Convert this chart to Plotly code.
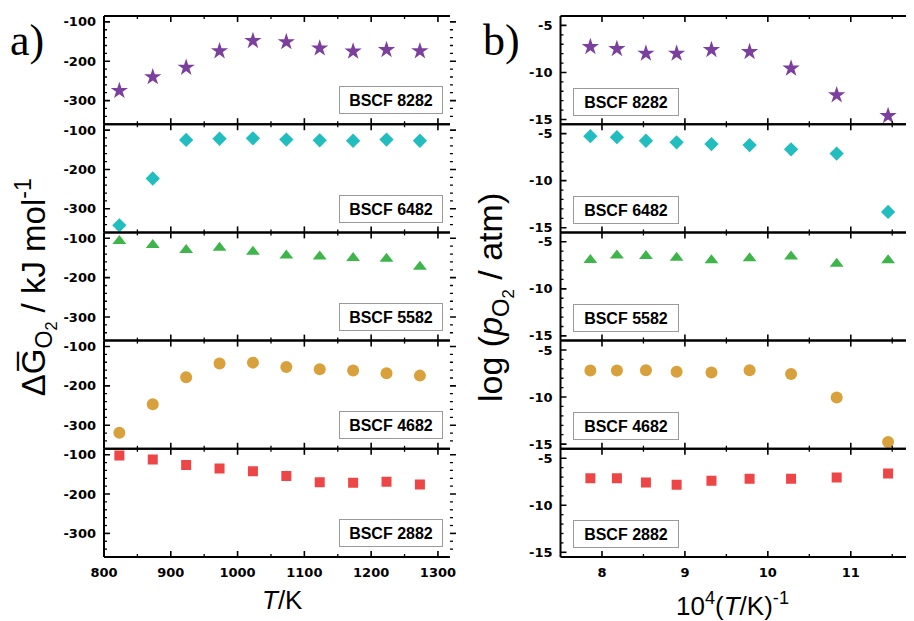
import plotly.graph_objects as go

# ---------------- data ----------------
T_K = [823, 873, 923, 973, 1023, 1073, 1123, 1173, 1223, 1273]
inv_T = [7.86, 8.18, 8.53, 8.90, 9.32, 9.78, 10.28, 10.83, 11.45]  # 10^4 (T/K)^-1

samples = ["BSCF 8282", "BSCF 6482", "BSCF 5582", "BSCF 4682", "BSCF 2882"]

dG_8282 = [-275, -240, -216, -174, -148, -151, -167, -175, -171, -174]
dG_6482 = [-342, -223, -125, -122, -121, -124, -126, -127, -124, -127]
dG_5582 = [-107, -117, -130, -124, -134, -144, -146, -150, -152, -172]
dG_4682 = [-319, -247, -178, -143, -141, -152, -158, -161, -168, -174]
dG_2882 = [-102, -112, -126, -135, -142, -154, -170, -171, -169, -176]

logp_8282 = [-7.28, -7.49, -7.98, -7.98, -7.60, -7.81, -9.57, -12.41, -14.62]
logp_6482 = [-5.27, -5.38, -5.76, -5.93, -6.11, -6.22, -6.67, -7.12, -13.32]
logp_5582 = [-6.94, -6.45, -6.52, -6.69, -6.97, -6.76, -6.55, -7.32, -6.97]
logp_4682 = [-7.18, -7.18, -7.14, -7.32, -7.39, -7.14, -7.56, -10.04, -14.77]
logp_2882 = [-7.13, -7.13, -7.57, -7.81, -7.40, -7.19, -7.19, -7.06, -6.62]

dG_all = [dG_8282, dG_6482, dG_5582, dG_4682, dG_2882]
logp_all = [logp_8282, logp_6482, logp_5582, logp_4682, logp_2882]

x_left_ticks = [800, 900, 1000, 1100, 1200, 1300]
x_right_ticks = [8, 9, 10, 11]
y_left_ticks = [-100, -200, -300]
y_left_text = ["-100", "-200", "-300"]
y_right_ticks = [-5, -10, -15]
y_right_text = ["-5", "-10", "-15"]

# ---------------- styles ----------------
colors = ["#7B3F9E", "#22BDBF", "#3DB54B", "#D9A13C", "#EE4646"]
symbols = ["star", "diamond", "triangle-up", "circle", "square"]
sizes = [13, 11, 12, 12, 10]

TICKFONT = dict(family="DejaVu Sans", size=13, color="black", weight="bold")
ANNFONT = dict(family="Liberation Sans", size=16, color="black")


def sfx(i):
    return "" if i == 1 else str(i)


def minor_vals(lo, hi, step, majors):
    vals = []
    n0 = int(lo // step) + 1
    v = n0 * step
    while v < hi - 1e-9:
        if all(abs(v - m) > 1e-6 for m in majors) and v > lo + 1e-9:
            vals.append(round(v, 6))
        v += step
    return vals


fig = go.Figure()

xdom = [[0.0, 0.4303], [0.5678, 1.0]]
ydoms = [[0.8 - 0.2 * r, 1.0 - 0.2 * r] for r in range(5)]
PANEL_H = 108.2
PANEL_W = [346.0, 347.5]

layout = {}
shapes = []
for r in range(5):
    for c in range(2):
        idx = r * 2 + c + 1
        xs = T_K if c == 0 else inv_T
        ys = dG_all[r] if c == 0 else logp_all[r]
        xname = "x" + sfx(idx)
        yname = "y" + sfx(idx)
        fig.add_trace(go.Scatter(
            x=xs, y=ys, mode="markers", xaxis=xname, yaxis=yname,
            marker=dict(symbol=symbols[r], size=sizes[r], color=colors[r]),
            showlegend=False, hoverinfo="skip"))
        if c == 0:
            xr, xt, xm = [800, 1318], x_left_ticks, 50
            yr, yt, ytt, ym = [-360, -85], y_left_ticks, y_left_text, 20
        else:
            xr, xt, xm = [7.5, 11.69], x_right_ticks, 0.5
            yr, yt, ytt, ym = [-15.5, -4], y_right_ticks, y_right_text, 1
        layout["xaxis" + sfx(idx)] = dict(
            domain=xdom[c], anchor=yname, range=xr,
            tickmode="array", tickvals=xt,
            showline=False, ticks="",
            showgrid=False, zeroline=False, showticklabels=(r == 4),
            tickfont=TICKFONT, ticklabelstandoff=6)
        layout["yaxis" + sfx(idx)] = dict(
            domain=ydoms[r], anchor=xname, range=yr,
            tickmode="array", tickvals=yt, ticktext=ytt,
            showline=False, ticks="",
            showgrid=False, zeroline=False, tickfont=TICKFONT,
            ticklabelstandoff=7)

        # frame: left, top, bottom (no right line in the reference)
        xd, yd = f"{xname} domain", f"{yname} domain"
        line = dict(color="black", width=2)
        shapes += [
            dict(type="line", xref=xd, yref=yd, x0=0, x1=0, y0=0, y1=1, line=line),
            dict(type="line", xref=xd, yref=yd, x0=0, x1=1, y0=1, y1=1, line=line),
            dict(type="line", xref=xd, yref=yd, x0=0, x1=1, y0=0, y1=0, line=line),
        ]
        tl_maj = dict(color="black", width=1.6)
        tl_min = dict(color="black", width=1.3)
        hx_maj, hx_min = 6 / PANEL_H, 3 / PANEL_H
        # x ticks (bottom and top, inside)
        for v in xt:
            shapes.append(dict(type="line", xref=xname, yref=yd, x0=v, x1=v,
                               y0=0, y1=hx_maj, line=tl_maj))
            shapes.append(dict(type="line", xref=xname, yref=yd, x0=v, x1=v,
                               y0=1 - hx_maj, y1=1, line=tl_maj))
        for v in minor_vals(xr[0], xr[1], xm, xt):
            shapes.append(dict(type="line", xref=xname, yref=yd, x0=v, x1=v,
                               y0=0, y1=hx_min, line=tl_min))
            shapes.append(dict(type="line", xref=xname, yref=yd, x0=v, x1=v,
                               y0=1 - hx_min, y1=1, line=tl_min))
        # y ticks (left inside, right outside)
        wy_maj, wy_min = 6 / PANEL_W[c], 3 / PANEL_W[c]
        for v in yt:
            shapes.append(dict(type="line", xref=xd, yref=yname, x0=0, x1=wy_maj,
                               y0=v, y1=v, line=tl_maj))
            shapes.append(dict(type="line", xref=xd, yref=yname, x0=1, x1=1 + wy_maj,
                               y0=v, y1=v, line=tl_maj))
        for v in minor_vals(yr[0], yr[1], ym, yt):
            shapes.append(dict(type="line", xref=xd, yref=yname, x0=0, x1=wy_min,
                               y0=v, y1=v, line=tl_min))
            shapes.append(dict(type="line", xref=xd, yref=yname, x0=1, x1=1 + wy_min,
                               y0=v, y1=v, line=tl_min))

annotations = []
for r in range(5):
    li = sfx(r * 2 + 1)
    ri = sfx(r * 2 + 2)
    annotations.append(dict(
        text=f"<b>{samples[r]}</b>", xref=f"x{li} domain", yref=f"y{li} domain",
        x=0.98, y=0.09, xanchor="right", yanchor="bottom", showarrow=False,
        font=ANNFONT, bgcolor="white", bordercolor="#9a9a9a", borderwidth=1,
        borderpad=3, width=96, height=20))
    annotations.append(dict(
        text=f"<b>{samples[r]}</b>", xref=f"x{ri} domain", yref=f"y{ri} domain",
        x=0.037, y=0.08, xanchor="left", yanchor="bottom", showarrow=False,
        font=ANNFONT, bgcolor="white", bordercolor="#9a9a9a", borderwidth=1,
        borderpad=3, width=98, height=20))

TITLEFONT = dict(family="Liberation Sans", size=26, color="black")
annotations += [
    dict(text="<i>T</i>/K", xref="paper", yref="paper", x=0.2214, y=-0.0795,
         xanchor="center", yanchor="middle", showarrow=False, font=TITLEFONT),
    dict(text="10<sup>4</sup>(<i>T</i>/K)<sup>-1</sup>", xref="paper", yref="paper",
         x=0.782, y=-0.0887, xanchor="center", yanchor="middle", showarrow=False,
         font=TITLEFONT),
    dict(text="ΔG\u0305<sub>O<sub>2</sub></sub> / kJ mol<sup>-1</sup>",
         xref="paper", yref="paper", x=-0.0855, y=0.499, xanchor="center",
         yanchor="middle", textangle=-90, showarrow=False,
         font=dict(family="Liberation Sans", size=33, color="black")),
    dict(text="log (<i>p</i><sub>O<sub>2</sub></sub> / atm)",
         xref="paper", yref="paper", x=0.4863, y=0.4806, xanchor="center",
         yanchor="middle", textangle=-90, showarrow=False,
         font=dict(family="Liberation Sans", size=34, color="black")),
    dict(text="a)", xref="paper", yref="paper", x=-0.0958, y=0.9556,
         xanchor="center", yanchor="middle", showarrow=False,
         font=dict(family="Liberation Serif", size=44, color="black")),
    dict(text="b)", xref="paper", yref="paper", x=0.495, y=0.9556,
         xanchor="center", yanchor="middle", showarrow=False,
         font=dict(family="Liberation Serif", size=44, color="black")),
]

# page body adds an 8 px offset, so the figure is 8 px smaller than the window
fig.update_layout(
    width=906, height=613,
    margin=dict(l=96, r=6, t=8, b=64, autoexpand=False),
    paper_bgcolor="white", plot_bgcolor="white",
    showlegend=False,
    annotations=annotations,
    shapes=shapes,
    **layout)

fig.write_html("out.html")
